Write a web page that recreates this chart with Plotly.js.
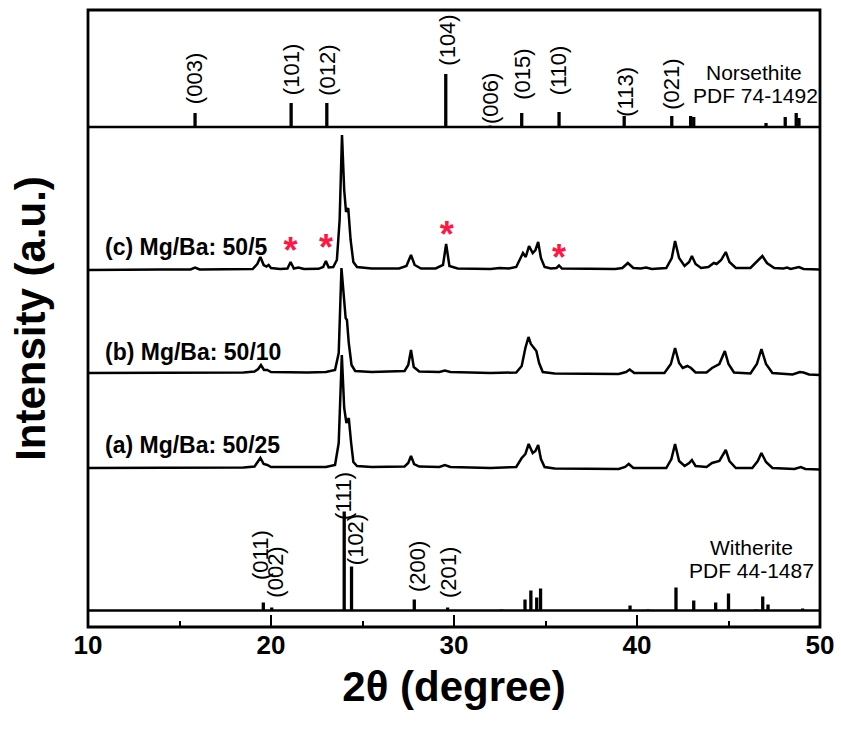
<!DOCTYPE html>
<html>
<head>
<meta charset="utf-8">
<script src="https://cdn.plot.ly/plotly-3.0.1.min.js"></script>
<style>html,body{margin:0;padding:0;background:#fff;}#chart{width:841px;height:729px;}</style>
</head>
<body>
<div id="chart"></div>
<script>
// ---- Data ----
// Sample (c) Mg/Ba: 50/5
const cX = [10.0,12,14,15.6,15.85,16.1,18,19.0,19.25,19.42,19.6,19.75,19.87,20.0,20.5,20.9,21.07,21.25,21.5,21.8,22.6,22.85,23.0,23.15,23.4,23.6,23.75,23.88,24.0,24.1,24.22,24.35,24.5,24.7,25.5,27.0,27.4,27.65,27.85,28.2,29.0,29.4,29.57,29.75,30.2,32.0,32.5,33.0,33.4,33.6,33.77,33.92,34.1,34.3,34.45,34.6,34.75,34.95,35.3,35.6,35.74,35.9,38.8,39.2,39.5,39.8,40.2,40.5,40.8,41.6,41.9,42.08,42.3,42.6,42.85,43.0,43.2,43.5,43.9,44.2,44.35,44.6,44.85,45.05,45.4,46.2,46.55,46.85,47.1,47.5,48.0,48.2,48.4,48.65,48.85,49.1,50];
const cY = [0,0.5,0.5,0.5,2.5,0.5,0.5,1,6,13,5,3.5,5,2,1,1.5,8,1.5,2.5,1,1.2,3,9,2.5,3,10,50,135,80,58,62,30,8,3,1.5,1.5,4,15,5,1.5,1.5,5,26,4,1.5,1,2,1.5,3,10,17,13,24,17,20,28,12,3,1.5,2,4.5,1.5,1,2,7,2,1.5,2.5,1,2,12,29,12,4,8,14,6,2,3,7,6,10,18,8,2,2,8,14,7,2,1.5,2.5,1,2.5,3,1,0.5];
// Sample (b) Mg/Ba: 50/10
const bX = [10,14,18.5,19.1,19.3,19.45,19.62,19.8,20.0,22,23.0,23.5,23.7,23.85,23.98,24.08,24.15,24.25,24.4,24.6,25.5,27.3,27.5,27.65,27.8,28.1,29.2,29.5,29.8,32,33.4,33.7,33.9,34.07,34.2,34.35,34.5,34.65,34.85,35.5,39.0,39.4,39.6,39.85,40.5,41.5,41.85,42.08,42.3,42.5,42.75,42.95,43.2,43.8,44.1,44.3,44.5,44.8,45.0,45.3,46.2,46.55,46.8,47.05,47.4,48.5,48.9,49.1,49.4,50];
const bY = [0,0.5,0.5,1.5,4,8,3,3,1,0.5,1,3,20,105,75,55,53,30,8,2,1,2,8,23,6,1.5,1,2.5,1,0,0.5,7,25,36,29,26,22,10,1,-0.5,-1,1,3.5,0,0,0,9,25,10,5,7,5,0.5,0.5,5,7,9,22,9,0.5,-0.5,9,24,9,0,-1.5,1,0.5,-1.5,-2];
// Sample (a) Mg/Ba: 50/25
const aX = [10,14,18.5,19.1,19.25,19.42,19.6,19.8,20.0,22,23.0,23.5,23.7,23.87,24.0,24.12,24.25,24.38,24.5,24.7,25.5,27.3,27.5,27.65,27.82,28.1,29.2,29.5,29.8,32,33.4,33.7,33.9,34.08,34.3,34.45,34.6,34.75,34.95,35.5,39.0,39.35,39.55,39.8,40.5,41.6,41.88,42.08,42.3,42.6,42.85,43.0,43.2,43.8,44.1,44.27,44.5,44.85,45.05,45.4,46.3,46.6,46.8,47.05,47.4,48.6,48.95,49.2,50];
const aY = [0,0.5,0.5,1.5,5,10,4,3,1,0.5,1,3,25,113,60,45,50,25,6,2,1,1.5,5,12,4,1.5,1,3,1,0,1,10,14,24,15,17,23,9,1,-0.5,-1,1,4,0,0,0,9,24,7,2,5,8,2,1,5,6,7,18,7,0,0,7,15,6,0,-1,1,-1,-1.5];

// Norsethite PDF 74-1492 reference sticks
const norX = [15.85,21.1,23.05,29.55,31.97,33.7,35.74,39.3,41.9,42.93,43.1,47.05,48.1,48.7,48.85];
const norH = [14,24,24,53,1.5,14,15,11,11,11,10,4,10,14,9];
const norLabelX = [15.8,21.1,23.05,29.6,31.97,33.7,35.7,39.33,41.85];
const norLabelY = [548,557,557,587,528,553,557,535,543];
const norLabels = ['(003)','(101)','(012)','(104)','(006)','(015)','(110)','(113)','(021)'];

// Witherite PDF 44-1487 reference sticks
const witX = [19.58,20.04,24.0,24.4,27.83,29.65,32.6,33.88,34.2,34.52,34.73,39.62,40.6,42.13,43.1,44.3,45.0,46.5,46.87,47.16,49.05];
const witH = [8,3,99,44,11,3,1,11,20,13,22,5,1,23,10,8,17,1,14,6,2];
const witLabelX = [23.93,24.6,19.4,20.2,27.98,29.67];
const witLabelY = [131,87,72,55,60,55];
const witLabels = ['(111)','(102)','(011)','(002)','(200)','(201)'];

// Impurity (norsethite) peaks marked with * in sample (c)
const starX = [21.07,23.0,29.6,35.74];
const starY = [16,19.5,32.5,9.5];

const sampleLabels = ['(c) Mg/Ba: 50/5','(b) Mg/Ba: 50/10','(a) Mg/Ba: 50/25'];
const xTicks = [10,20,30,40,50];

// ---- Layout constants (vertical stacking, y units = px) ----
const offC = 357, offB = 254, offA = 159;
const norBase = 500, witBase = 16.5;
const FONT = 'Arial, "Liberation Sans", Helvetica, sans-serif';

function shift(arr, off){ return arr.map(v => v + off); }

const line = {color:'#000', width:2.5};
const traces = [
  {x:cX, y:shift(cY,offC), mode:'lines', line:line, hoverinfo:'skip'},
  {x:bX, y:shift(bY,offB), mode:'lines', line:line, hoverinfo:'skip'},
  {x:aX, y:shift(aY,offA), mode:'lines', line:line, hoverinfo:'skip'},
  {type:'bar', x:norX, y:norH, base:norBase, width:0.18, marker:{color:'#000', line:{width:0}}, hoverinfo:'skip'},
  {type:'bar', x:witX, y:witH, base:witBase, width:0.18, marker:{color:'#000', line:{width:0}}, hoverinfo:'skip'},
  {x:starX, y:shift(starY,offC), mode:'text', text:starX.map(()=>'*'), textposition:'middle center',
   textfont:{family:FONT, size:36, color:'#ff1744', weight:'bold'}, hoverinfo:'skip'}
];

const annotations = [];
norLabels.forEach((t,i)=>annotations.push({x:norLabelX[i], y:norLabelY[i], text:t, textangle:-90, showarrow:false,
  xanchor:'center', yanchor:'middle', font:{family:FONT, size:22, color:'#000'}}));
witLabels.forEach((t,i)=>annotations.push({x:witLabelX[i], y:witLabelY[i], text:t, textangle:-90, showarrow:false,
  xanchor:'center', yanchor:'middle', font:{family:FONT, size:22, color:'#000'}}));
const sampleY = [380, 275, 182];
sampleLabels.forEach((t,i)=>annotations.push({x:10.8, y:sampleY[i], text:t, showarrow:false,
  xanchor:'left', yanchor:'middle', font:{family:FONT, size:23, color:'#000', weight:'bold'}}));
annotations.push({x:46.4, xanchor:'center', y:627-72, yanchor:'middle', text:'Norsethite', showarrow:false, font:{family:FONT,size:21,color:'#000'}});
annotations.push({x:46.45, xanchor:'center', y:627-95, yanchor:'middle', text:'PDF 74-1492', showarrow:false, font:{family:FONT,size:21,color:'#000'}});
annotations.push({x:46.23, xanchor:'center', y:627-547, yanchor:'middle', text:'Witherite', showarrow:false, font:{family:FONT,size:21,color:'#000'}});
annotations.push({x:46.28, xanchor:'center', y:627-570, yanchor:'middle', text:'PDF 44-1487', showarrow:false, font:{family:FONT,size:21,color:'#000'}});

const layout = {
  width:841, height:729,
  margin:{l:88, r:21, t:10, b:102},
  paper_bgcolor:'#fff', plot_bgcolor:'#fff',
  showlegend:false,
  barmode:'overlay',
  xaxis:{range:[10,50], tickvals:xTicks, ticks:'inside', ticklen:12, tickwidth:2, tickcolor:'#000',
    minor:{dtick:5, tick0:10, ticks:'inside', ticklen:6, tickwidth:2, tickcolor:'#000'},
    showgrid:false, zeroline:false, showline:false,
    tickfont:{family:FONT, size:26, color:'#000', weight:'bold'},
    title:{text:'2θ (degree)', font:{family:FONT, size:42, color:'#000', weight:'bold'}, standoff:12},
    fixedrange:true},
  yaxis:{range:[0,617], showticklabels:false, ticks:'', showgrid:false, zeroline:false, showline:false,
    title:{text:'Intensity (a.u.)', font:{family:FONT, size:42, color:'#000', weight:'bold'}, standoff:28},
    fixedrange:true},
  shapes:[
    {type:'rect', xref:'paper', yref:'paper', x0:0, x1:1, y0:0, y1:1, line:{color:'#000', width:2.8}},
    {type:'line', xref:'paper', yref:'y', x0:0, x1:1, y0:norBase, y1:norBase, line:{color:'#000', width:2.6}},
    {type:'line', xref:'paper', yref:'y', x0:0, x1:1, y0:witBase, y1:witBase, line:{color:'#000', width:2.6}}
  ],
  annotations:annotations
};

Plotly.newPlot('chart', traces, layout, {displayModeBar:false, staticPlot:true});
</script>
</body>
</html>
